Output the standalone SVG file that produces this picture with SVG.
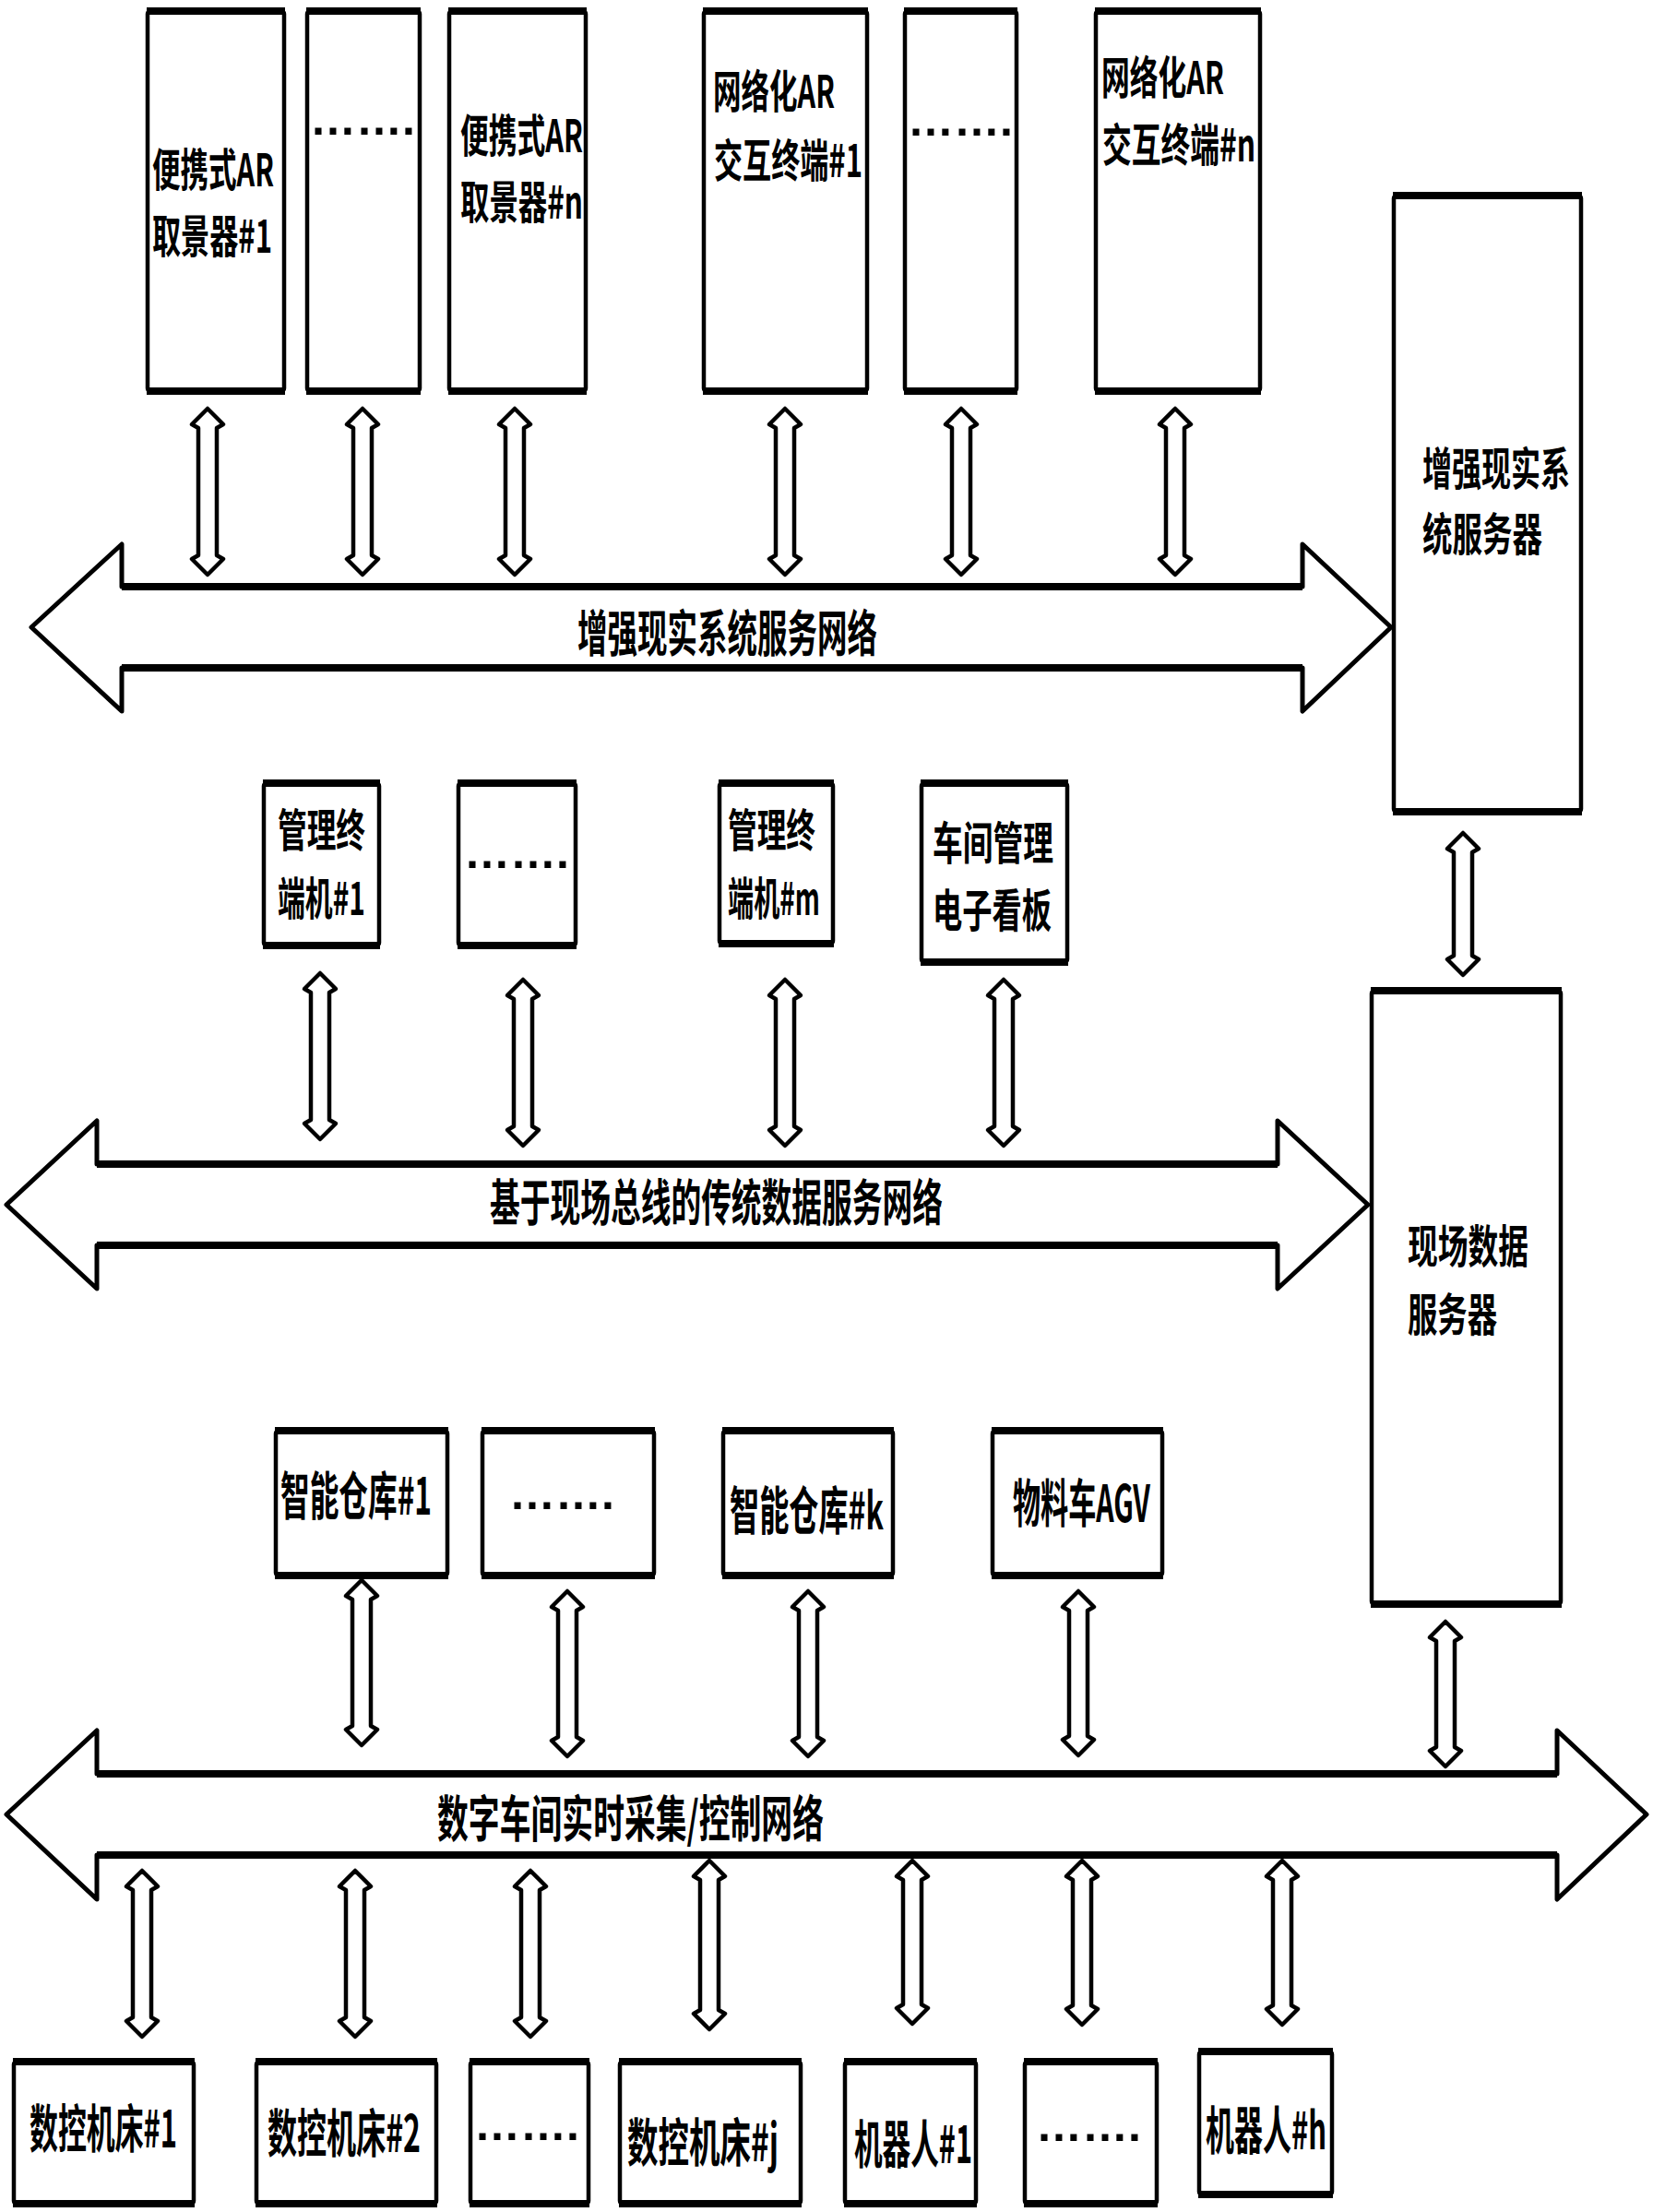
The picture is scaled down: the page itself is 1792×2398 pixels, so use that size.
<svg xmlns="http://www.w3.org/2000/svg" width="1792" height="2398" viewBox="0 0 1792 2398">
<style>
.box{fill:#fff;stroke:#000;stroke-width:4.5;stroke-linejoin:round}
.edge{fill:none;stroke:#000;stroke-width:8}
.bus{fill:#fff;stroke:#000;stroke-width:5;stroke-linejoin:round}
.link{fill:#fff;stroke:#000;stroke-width:4.5;stroke-linejoin:round}
.t{font-family:"Noto Sans CJK SC","Noto Sans",sans-serif;font-weight:700;font-size:56px;dominant-baseline:central;fill:#000}
.t2{font-size:49px}
.lbl{font-size:54px}
.dots{font-family:"Liberation Sans",sans-serif;font-weight:700;font-size:50px;fill:#000}
</style>
<rect width="1792" height="2398" fill="#fff"/>

<g id="bus-ar">
<path class="bus" d="M34,680 L132,590 V636 H1412 V590 L1508,680 L1412,771 V724 H132 V771 Z"/>
<path class="edge" d="M132,636 H1412 M132,724 H1412"/>
<text class="t lbl" x="626" y="683" textLength="325" lengthAdjust="spacingAndGlyphs">增强现实系统服务网络</text>
</g>
<g id="bus-field">
<path class="bus" d="M7,1306 L105,1215 V1262 H1385 V1215 L1483,1306 L1385,1397 V1350 H105 V1397 Z"/>
<path class="edge" d="M105,1262 H1385 M105,1350 H1385"/>
<text class="t lbl" x="531" y="1300" textLength="491" lengthAdjust="spacingAndGlyphs">基于现场总线的传统数据服务网络</text>
</g>
<g id="bus-rt">
<path class="bus" d="M7,1967 L105,1876 V1923 H1688 V1876 L1785,1967 L1688,2059 V2011 H105 V2059 Z"/>
<path class="edge" d="M105,1923 H1688 M105,2011 H1688"/>
<text class="t lbl" x="474" y="1968" textLength="419" lengthAdjust="spacingAndGlyphs">数字车间实时采集/控制网络</text>
</g>

<g id="ar-viewer-1"><rect class="box" x="160" y="12" width="148" height="412" rx="3"/><path class="edge" d="M159,12H309M159,424H309"/>
<text class="t t2" x="165" y="180" textLength="132" lengthAdjust="spacingAndGlyphs">便携式AR</text>
<text class="t t2" x="165" y="252" textLength="130" lengthAdjust="spacingAndGlyphs">取景器#1</text></g>
<g id="ar-viewer-dots"><rect class="box" x="333" y="12" width="122" height="412" rx="3"/><path class="edge" d="M332,12H456M332,424H456"/>
<text class="dots" x="336" y="146">…….</text></g>
<g id="ar-viewer-n"><rect class="box" x="487" y="12" width="148" height="412" rx="3"/><path class="edge" d="M486,12H636M486,424H636"/>
<text class="t t2" x="499" y="143" textLength="133" lengthAdjust="spacingAndGlyphs">便携式AR</text>
<text class="t t2" x="499" y="215" textLength="133" lengthAdjust="spacingAndGlyphs">取景器#n</text></g>
<g id="ar-terminal-1"><rect class="box" x="763" y="12" width="177" height="412" rx="3"/><path class="edge" d="M762,12H941M762,424H941"/>
<text class="t t2" x="773" y="95" textLength="132" lengthAdjust="spacingAndGlyphs">网络化AR</text>
<text class="t t2" x="774" y="170" textLength="161" lengthAdjust="spacingAndGlyphs">交互终端#1</text></g>
<g id="ar-terminal-dots"><rect class="box" x="981" y="12" width="121" height="412" rx="3"/><path class="edge" d="M980,12H1103M980,424H1103"/>
<text class="dots" x="984" y="147">…….</text></g>
<g id="ar-terminal-n"><rect class="box" x="1188" y="12" width="178" height="412" rx="3"/><path class="edge" d="M1187,12H1367M1187,424H1367"/>
<text class="t t2" x="1194" y="80" textLength="133" lengthAdjust="spacingAndGlyphs">网络化AR</text>
<text class="t t2" x="1195" y="153" textLength="166" lengthAdjust="spacingAndGlyphs">交互终端#n</text></g>
<g id="ar-server"><rect class="box" x="1511" y="212" width="203" height="668" rx="3"/><path class="edge" d="M1510,212H1715M1510,880H1715"/>
<text class="t t2" x="1542" y="504" textLength="160" lengthAdjust="spacingAndGlyphs">增强现实系</text>
<text class="t t2" x="1542" y="575" textLength="130" lengthAdjust="spacingAndGlyphs">统服务器</text></g>
<g id="field-server"><rect class="box" x="1487" y="1074" width="205" height="665" rx="3"/><path class="edge" d="M1486,1074H1693M1486,1739H1693"/>
<text class="t t2" x="1526" y="1347" textLength="131" lengthAdjust="spacingAndGlyphs">现场数据</text>
<text class="t t2" x="1526" y="1421" textLength="97" lengthAdjust="spacingAndGlyphs">服务器</text></g>

<g id="mgmt-1"><rect class="box" x="286" y="849" width="125" height="176" rx="3"/><path class="edge" d="M285,849H412M285,1025H412"/>
<text class="t t2" x="301" y="896" textLength="95" lengthAdjust="spacingAndGlyphs">管理终</text>
<text class="t t2" x="301" y="970" textLength="95" lengthAdjust="spacingAndGlyphs">端机#1</text></g>
<g id="mgmt-dots"><rect class="box" x="497" y="849" width="127" height="176" rx="3"/><path class="edge" d="M496,849H625M496,1025H625"/>
<text class="dots" x="503" y="941">…….</text></g>
<g id="mgmt-m"><rect class="box" x="780" y="849" width="123" height="174" rx="3"/><path class="edge" d="M779,849H904M779,1023H904"/>
<text class="t t2" x="789" y="896" textLength="95" lengthAdjust="spacingAndGlyphs">管理终</text>
<text class="t t2" x="789" y="970" textLength="100" lengthAdjust="spacingAndGlyphs">端机#m</text></g>
<g id="kanban"><rect class="box" x="999" y="849" width="158" height="194" rx="3"/><path class="edge" d="M998,849H1158M998,1043H1158"/>
<text class="t t2" x="1011" y="910" textLength="131" lengthAdjust="spacingAndGlyphs">车间管理</text>
<text class="t t2" x="1011" y="983" textLength="129" lengthAdjust="spacingAndGlyphs">电子看板</text></g>

<g id="warehouse-1"><rect class="box" x="299" y="1551" width="186" height="157" rx="3"/><path class="edge" d="M298,1551H486M298,1708H486"/>
<text class="t" x="304" y="1617" textLength="164" lengthAdjust="spacingAndGlyphs">智能仓库#1</text></g>
<g id="warehouse-dots"><rect class="box" x="523" y="1551" width="186" height="157" rx="3"/><path class="edge" d="M522,1551H710M522,1708H710"/>
<text class="dots" x="552" y="1636">…….</text></g>
<g id="warehouse-k"><rect class="box" x="784" y="1551" width="184" height="157" rx="3"/><path class="edge" d="M783,1551H969M783,1708H969"/>
<text class="t" x="791" y="1633" textLength="167" lengthAdjust="spacingAndGlyphs">智能仓库#k</text></g>
<g id="agv"><rect class="box" x="1076" y="1551" width="184" height="157" rx="3"/><path class="edge" d="M1075,1551H1261M1075,1708H1261"/>
<text class="t" x="1098" y="1625" textLength="149" lengthAdjust="spacingAndGlyphs">物料车AGV</text></g>

<g id="cnc-1"><rect class="box" x="15" y="2235" width="195" height="154" rx="3"/><path class="edge" d="M14,2235H211M14,2389H211"/>
<text class="t" x="32" y="2303" textLength="160" lengthAdjust="spacingAndGlyphs">数控机床#1</text></g>
<g id="cnc-2"><rect class="box" x="278" y="2235" width="195" height="154" rx="3"/><path class="edge" d="M277,2235H474M277,2389H474"/>
<text class="t" x="290" y="2308" textLength="166" lengthAdjust="spacingAndGlyphs">数控机床#2</text></g>
<g id="cnc-dots"><rect class="box" x="510" y="2235" width="128" height="154" rx="3"/><path class="edge" d="M509,2235H639M509,2389H639"/>
<text class="dots" x="514" y="2320">…….</text></g>
<g id="cnc-j"><rect class="box" x="672" y="2235" width="196" height="154" rx="3"/><path class="edge" d="M671,2235H869M671,2389H869"/>
<text class="t" x="680" y="2318" textLength="164" lengthAdjust="spacingAndGlyphs">数控机床#j</text></g>
<g id="robot-1"><rect class="box" x="916" y="2235" width="142" height="154" rx="3"/><path class="edge" d="M915,2235H1059M915,2389H1059"/>
<text class="t" x="926" y="2320" textLength="128" lengthAdjust="spacingAndGlyphs">机器人#1</text></g>
<g id="robot-dots"><rect class="box" x="1111" y="2235" width="143" height="154" rx="3"/><path class="edge" d="M1110,2235H1255M1110,2389H1255"/>
<text class="dots" x="1123" y="2321">…….</text></g>
<g id="robot-h"><rect class="box" x="1300" y="2224" width="144" height="155" rx="3"/><path class="edge" d="M1299,2224H1445M1299,2379H1445"/>
<text class="t" x="1307" y="2305" textLength="131" lengthAdjust="spacingAndGlyphs">机器人#h</text></g>

<g id="connectors">
<path class="link" d="M225,443 L242,460 L235,464 V602 L242,606 L225,623 L208,606 L215,602 V464 L208,460 Z"/>
<path class="link" d="M393,443 L410,460 L403,464 V602 L410,606 L393,623 L376,606 L383,602 V464 L376,460 Z"/>
<path class="link" d="M558,443 L575,460 L568,464 V602 L575,606 L558,623 L541,606 L548,602 V464 L541,460 Z"/>
<path class="link" d="M851,443 L868,460 L861,464 V602 L868,606 L851,623 L834,606 L841,602 V464 L834,460 Z"/>
<path class="link" d="M1042,443 L1059,460 L1052,464 V602 L1059,606 L1042,623 L1025,606 L1032,602 V464 L1025,460 Z"/>
<path class="link" d="M1274,443 L1291,460 L1284,464 V602 L1291,606 L1274,623 L1257,606 L1264,602 V464 L1257,460 Z"/>
<path class="link" d="M1586,903 L1603,920 L1596,924 V1036 L1603,1040 L1586,1057 L1569,1040 L1576,1036 V924 L1569,920 Z"/>
<path class="link" d="M347,1055 L364,1072 L357,1076 V1214 L364,1218 L347,1235 L330,1218 L337,1214 V1076 L330,1072 Z"/>
<path class="link" d="M567,1062 L584,1079 L577,1083 V1221 L584,1225 L567,1242 L550,1225 L557,1221 V1083 L550,1079 Z"/>
<path class="link" d="M851,1062 L868,1079 L861,1083 V1221 L868,1225 L851,1242 L834,1225 L841,1221 V1083 L834,1079 Z"/>
<path class="link" d="M1088,1062 L1105,1079 L1098,1083 V1221 L1105,1225 L1088,1242 L1071,1225 L1078,1221 V1083 L1071,1079 Z"/>
<path class="link" d="M392,1713 L409,1730 L402,1734 V1871 L409,1875 L392,1892 L375,1875 L382,1871 V1734 L375,1730 Z"/>
<path class="link" d="M615,1725 L632,1742 L625,1746 V1883 L632,1887 L615,1904 L598,1887 L605,1883 V1746 L598,1742 Z"/>
<path class="link" d="M876,1725 L893,1742 L886,1746 V1883 L893,1887 L876,1904 L859,1887 L866,1883 V1746 L859,1742 Z"/>
<path class="link" d="M1169,1725 L1186,1742 L1179,1746 V1882 L1186,1886 L1169,1903 L1152,1886 L1159,1882 V1746 L1152,1742 Z"/>
<path class="link" d="M1567,1758 L1584,1775 L1577,1779 V1894 L1584,1898 L1567,1915 L1550,1898 L1557,1894 V1779 L1550,1775 Z"/>
<path class="link" d="M154,2028 L171,2045 L164,2049 V2187 L171,2191 L154,2208 L137,2191 L144,2187 V2049 L137,2045 Z"/>
<path class="link" d="M385,2028 L402,2045 L395,2049 V2187 L402,2191 L385,2208 L368,2191 L375,2187 V2049 L368,2045 Z"/>
<path class="link" d="M575,2028 L592,2045 L585,2049 V2187 L592,2191 L575,2208 L558,2191 L565,2187 V2049 L558,2045 Z"/>
<path class="link" d="M769,2017 L786,2034 L779,2038 V2179 L786,2183 L769,2200 L752,2183 L759,2179 V2038 L752,2034 Z"/>
<path class="link" d="M989,2017 L1006,2034 L999,2038 V2173 L1006,2177 L989,2194 L972,2177 L979,2173 V2038 L972,2034 Z"/>
<path class="link" d="M1173,2017 L1190,2034 L1183,2038 V2174 L1190,2178 L1173,2195 L1156,2178 L1163,2174 V2038 L1156,2034 Z"/>
<path class="link" d="M1390,2017 L1407,2034 L1400,2038 V2174 L1407,2178 L1390,2195 L1373,2178 L1380,2174 V2038 L1373,2034 Z"/>
</g>
</svg>
